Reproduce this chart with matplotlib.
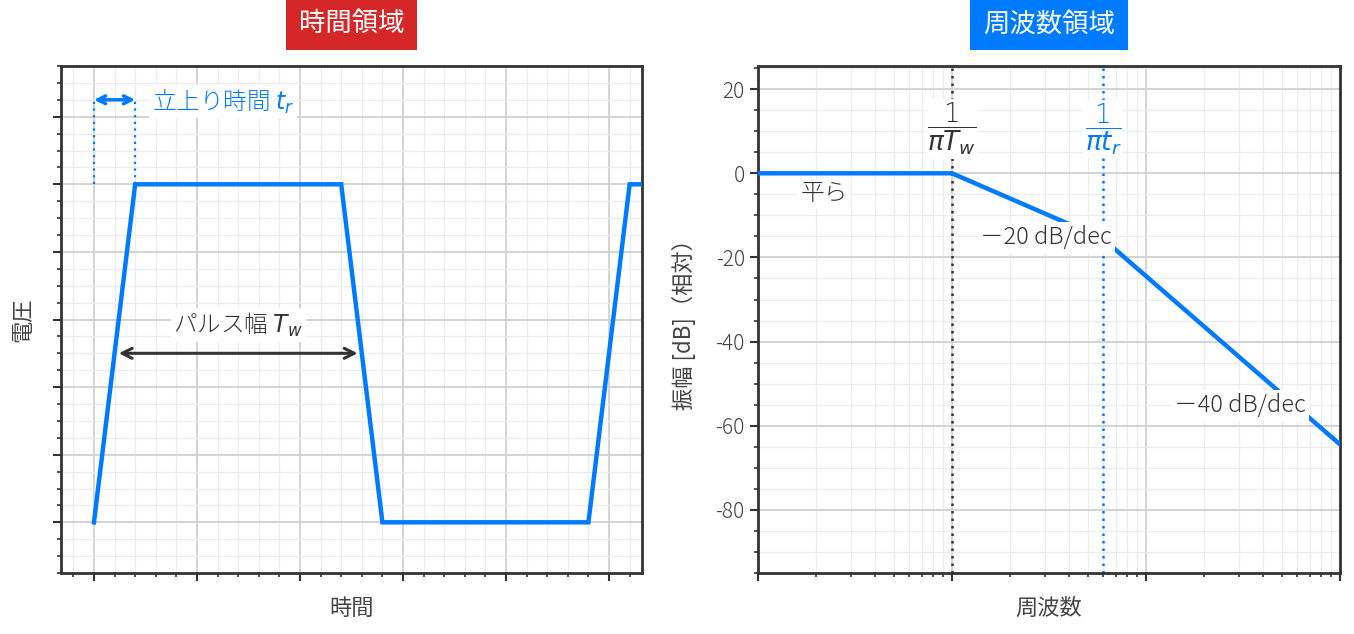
import numpy as np
import matplotlib
matplotlib.use("Agg")
import matplotlib.pyplot as plt
from matplotlib.ticker import MultipleLocator, LogLocator, NullFormatter

plt.rcParams['font.family'] = ['Noto Sans CJK JP', 'DejaVu Sans']
plt.rcParams['font.weight'] = 'light'
plt.rcParams['axes.unicode_minus'] = False
plt.rcParams['mathtext.fontset'] = 'dejavusans'

BLUE = '#007BFF'
RED = '#D62728'
DARK = '#333333'
GREY_TXT = '#444444'

# ---- data: time domain (pulse train) ----
t_pts = [0, 2, 12, 14, 24, 26, 28]
v_pts = [0, 1, 1, 0, 0, 1, 1]
tr_start, tr_end = 0, 2
tw_start, tw_end = 1, 13

# ---- data: frequency domain (asymptotic spectrum) ----
f_pts = [0.1, 1, 6, 100]
db_pts = [0, 0, -15.56, -64.44]
f_corner1 = 1
f_corner2 = 6

fig = plt.figure(figsize=(13.54, 6.34), dpi=100)
ax1 = fig.add_axes([61/1354, 1-573/634, (642-61)/1354, (573-66)/634])
ax2 = fig.add_axes([758/1354, 1-573/634, (1340-758)/1354, (573-66)/634])

def style(ax):
    for s in ax.spines.values():
        s.set_color(DARK)
        s.set_linewidth(2)
    ax.grid(True, which='major', color='#d0d0d0', linewidth=1.3, zorder=0)
    ax.grid(True, which='minor', color='#ececec', linewidth=0.9, zorder=0)
    ax.set_axisbelow(True)
    ax.tick_params(which='major', length=6, width=1.5, color=DARK, labelsize=15, labelcolor=GREY_TXT)
    ax.tick_params(which='minor', length=3, width=1.2, color=DARK)
    ax.tick_params(top=False, right=False, which='both')

box = dict(facecolor='white', edgecolor='none', pad=2)

# ---- left plot ----
style(ax1)
ax1.plot(t_pts, v_pts, color=BLUE, lw=3.2, zorder=3, solid_joinstyle='miter')
ax1.set_xlim(-1.6, 26.6)
ax1.set_ylim(-0.15, 1.35)
ax1.xaxis.set_major_locator(MultipleLocator(5))
ax1.xaxis.set_minor_locator(MultipleLocator(1))
ax1.yaxis.set_major_locator(MultipleLocator(0.2))
ax1.yaxis.set_minor_locator(MultipleLocator(0.05))
ax1.set_xticklabels([])
ax1.set_yticklabels([])
ax1.set_xlabel('時間', fontsize=16, color=GREY_TXT, labelpad=8)
ax1.set_ylabel('電圧', fontsize=16, color=GREY_TXT, labelpad=10)

ax1.plot([tr_start, tr_start], [1, 1.25], color=BLUE, lw=1.6, ls=(0, (1, 2)), zorder=3)
ax1.plot([tr_end, tr_end], [1, 1.25], color=BLUE, lw=1.6, ls=(0, (1, 2)), zorder=3)
ax1.annotate('', xy=(tr_start, 1.25), xytext=(tr_end, 1.25),
             arrowprops=dict(arrowstyle='<->', color=BLUE, lw=2.5, shrinkA=0, shrinkB=0, mutation_scale=14))
ax1.text(2.8, 1.245, '立上り時間 $t_r$', color=BLUE, fontsize=17, ha='left', va='center',
         bbox=box, zorder=4)

ax1.annotate('', xy=(tw_start, 0.5), xytext=(tw_end, 0.5),
             arrowprops=dict(arrowstyle='<->', color=DARK, lw=2.2, shrinkA=3, shrinkB=3, mutation_scale=18))
ax1.text(7, 0.585, 'パルス幅 $T_w$', color=DARK, fontsize=17, ha='center', va='center',
         bbox=box, zorder=4)

ax1.set_title('時間領域', fontsize=19, color='white', pad=25,
              bbox=dict(facecolor=RED, edgecolor='none', boxstyle='square,pad=0.48'))

# ---- right plot ----
style(ax2)
ax2.set_xscale('log')
ax2.plot(f_pts, db_pts, color=BLUE, lw=3.2, zorder=3)
ax2.set_xlim(0.1, 100)
ax2.set_ylim(-95, 25.5)
ax2.yaxis.set_major_locator(MultipleLocator(20))
ax2.yaxis.set_minor_locator(MultipleLocator(5))
ax2.xaxis.set_major_locator(LogLocator(base=10, numticks=10))
ax2.xaxis.set_minor_locator(LogLocator(base=10, subs=np.arange(2, 10), numticks=100))
ax2.xaxis.set_major_formatter(NullFormatter())
ax2.xaxis.set_minor_formatter(NullFormatter())
ax2.set_xlabel('周波数', fontsize=16, color=GREY_TXT, labelpad=8)
ax2.set_ylabel('振幅 [dB]（相対）', fontsize=16, color=GREY_TXT, labelpad=14)

ax2.axvline(f_corner1, color=DARK, lw=1.8, ls=(0, (1, 2)), zorder=2)
ax2.axvline(f_corner2, color=BLUE, lw=1.8, ls=(0, (1, 2)), zorder=2)
ax2.text(f_corner1, 10.5, r'$\dfrac{1}{\pi T_w}$', color=DARK, fontsize=19, ha='center', va='center',
         bbox=dict(facecolor='white', edgecolor='none', pad=1), zorder=4)
ax2.text(f_corner2, 10.5, r'$\dfrac{1}{\pi t_r}$', color=BLUE, fontsize=19, ha='center', va='center',
         bbox=dict(facecolor='white', edgecolor='none', pad=1), zorder=4)
ax2.text(0.22, -4.8, '平ら', color=DARK, fontsize=17, ha='center', va='center',
         bbox=box, zorder=4)
ax2.text(3.05, -15.2, '－20 dB/dec', color=DARK, fontsize=17, ha='center', va='center',
         bbox=box, zorder=4)
ax2.text(30.5, -55.2, '－40 dB/dec', color=DARK, fontsize=17, ha='center', va='center',
         bbox=box, zorder=4)

ax2.set_title('周波数領域', fontsize=19, color='white', pad=25,
              bbox=dict(facecolor=BLUE, edgecolor='none', boxstyle='square,pad=0.48'))

fig.savefig('out.png', dpi=100)
